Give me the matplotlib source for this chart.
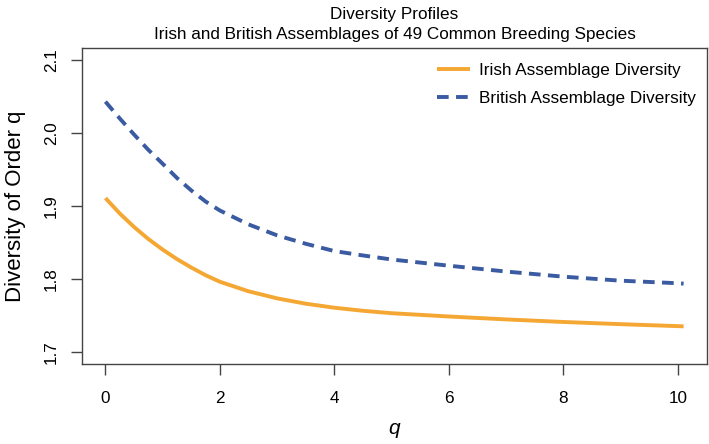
import matplotlib
matplotlib.use("Agg")
import matplotlib.pyplot as plt

# diversity profiles
q = [0, 0.25, 0.5, 0.75, 1, 1.25, 1.5, 1.75, 2, 2.5, 3, 3.5, 4, 4.5, 5, 6, 7, 8, 9, 10, 10.1]
irish = [1.911, 1.890, 1.8715, 1.855, 1.8405, 1.8275, 1.816, 1.8055, 1.7965, 1.7835,
         1.7738, 1.7665, 1.761, 1.7568, 1.7535, 1.749, 1.745, 1.7415, 1.7385, 1.7358, 1.7355]
british = [2.043, 2.020, 1.998, 1.977, 1.958, 1.9385, 1.9215, 1.9063, 1.894, 1.875,
           1.860, 1.8485, 1.8385, 1.8325, 1.827, 1.8185, 1.8105, 1.8035, 1.798, 1.7945, 1.794]

xticks = [0, 2, 4, 6, 8, 10]
yticks = [1.7, 1.8, 1.9, 2.0, 2.1]

plt.rcParams['font.family'] = ['Liberation Sans', 'DejaVu Sans']
FS = 12.3
edge = '#444444'

fig = plt.figure(figsize=(7.09, 4.44), dpi=100)
ax = fig.add_axes([0.1161, 0.1802, 0.8807, 0.7110])

ax.plot(q, irish, color='#F5A733', lw=2.8, solid_capstyle='butt',
        label='Irish Assemblage Diversity')
ax.plot(q, british, color='#3A5BA2', lw=2.8, dashes=(3.0, 1.9),
        dash_capstyle='butt', label='British Assemblage Diversity')

ax.set_xlim(-0.404, 10.504)
ax.set_ylim(1.684, 2.116)
ax.set_xticks(xticks)
ax.set_yticks(yticks)
ax.set_xticklabels([str(t) for t in xticks])
ax.set_yticklabels(['%.1f' % t for t in yticks])

for s in ax.spines.values():
    s.set_color(edge)
    s.set_linewidth(1.0)
ax.tick_params(length=7.8, width=1.0, color=edge, labelsize=FS)
ax.tick_params(axis='x', pad=12)
ax.tick_params(axis='y', pad=9, labelrotation=90)
for lab in ax.get_yticklabels():
    lab.set_va('center')

ax.set_xlabel('q', fontsize=15, style='italic', labelpad=9)
ax.set_ylabel('Diversity of Order q', fontsize=16, labelpad=13)

fig.text(394.5 / 709, 1 - 18.5 / 444, 'Diversity Profiles', ha='center',
         va='baseline', fontsize=FS)
fig.text(394.5 / 709, 1 - 39 / 444,
         'Irish and British Assemblages of 49 Common Breeding Species',
         ha='center', va='baseline', fontsize=FS)

ax.legend(loc='upper left', bbox_to_anchor=(0.5676, 0.955), frameon=False,
          fontsize=FS, borderpad=0, borderaxespad=0, handlelength=1.96,
          handletextpad=0.53, labelspacing=0.8)

fig.savefig('out.png', dpi=100)
